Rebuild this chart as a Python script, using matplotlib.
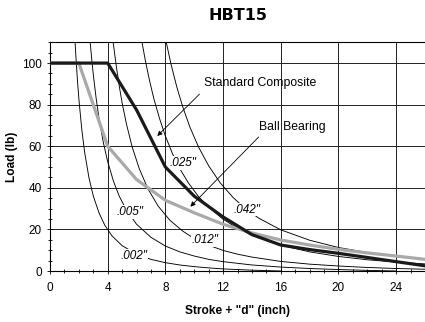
import matplotlib
matplotlib.use("Agg")
import matplotlib.pyplot as plt
from matplotlib.ticker import MultipleLocator

plt.rcParams['font.family'] = ['Liberation Sans', 'DejaVu Sans']

# Standard Composite / Ball Bearing load curves
stroke = [0, 2, 4, 6, 8, 10, 12, 14, 16, 18, 20, 22, 24, 26]
load_standard = [100, 100, 100, 77.5, 50, 36, 26, 17.5, 12.5, 10.3, 8.5, 6.5, 4.5, 2.5]
load_ball = [100, 100, 60, 44, 34, 28, 22.5, 18.3, 14.9, 12.5, 10.4, 8.7, 7.2, 5.6]

# thin reference curves, one per deflection value
stroke_002 = [1.74, 1.8, 1.9, 2.0, 2.2, 2.4, 2.7, 3.0, 3.4, 3.8, 4.3, 5.0, 6.0, 7.0,
              8.0, 9.0, 10, 11, 12, 13, 14, 15, 16]
load_002 = [110, 102.7, 92.0, 82.9, 68.3, 57.2, 44.9, 36.1, 27.9, 22.0, 16.9, 12.2, 8.1, 5.6,
            4.0, 2.9, 2.1, 1.5, 1.0, 0.7, 0.4, 0.2, 0.0]

stroke_005 = [2.785, 2.9, 3.0, 3.2, 3.4, 3.7, 4.0, 4.4, 4.8, 5.3, 6.0, 7.0, 8.0, 9.0,
              10, 11, 12, 14, 16, 18, 20, 22, 24]
load_005 = [110, 101.4, 94.6, 83.0, 73.3, 61.7, 52.6, 43.2, 36.0, 29.3, 22.5, 16.2, 12.0, 9.2,
            7.2, 5.6, 4.5, 2.9, 1.9, 1.2, 0.7, 0.3, 0.0]

stroke_012 = [4.38, 4.6, 4.8, 5.0, 5.3, 5.7, 6.2, 6.8, 7.5, 8.3, 9.2, 10, 11, 12, 13, 14,
              16, 18, 20, 22, 24, 26]
load_012 = [110, 98.3, 89.0, 80.9, 70.7, 59.6, 49.0, 39.4, 31.2, 24.5, 19.2, 15.6, 12.4, 9.9,
            8.1, 6.7, 4.6, 3.3, 2.4, 1.7, 1.2, 0.85]

stroke_025 = [6.38, 6.6, 6.9, 7.2, 7.6, 8.0, 8.5, 9.0, 9.6, 10.3, 11, 12, 13, 14, 16, 18,
              20, 22, 24, 26]
load_025 = [110, 101.6, 91.6, 82.9, 73.2, 64.9, 56.3, 49.2, 42.3, 35.8, 30.7, 24.9, 20.6, 17.2,
            12.4, 9.2, 7.0, 5.4, 4.3, 3.4]

stroke_042 = [8.06, 8.4, 8.8, 9.2, 9.7, 10.3, 11, 11.8, 12.7, 13.6, 14.5, 16, 18, 20, 22, 24, 26]
load_042 = [110, 99.2, 88.3, 79.0, 69.2, 59.6, 50.6, 42.4, 35.3, 29.7, 25.3, 19.8, 14.8, 11.3,
            8.9, 7.2, 5.9]

curve_labels = ['.002"', '.005"', '.012"', '.025"', '.042"']
label_pos = [(5.8, 7.4), (5.55, 28.5), (10.75, 14.8), (9.25, 52), (13.65, 29.5)]

fig = plt.figure(figsize=(4.25, 3.22), dpi=100)
ax = fig.add_axes([50 / 425, 1 - 271 / 322, 375 / 425, (271 - 42.3) / 322])

thin = [(stroke_002, load_002), (stroke_005, load_005), (stroke_012, load_012),
        (stroke_025, load_025), (stroke_042, load_042)]
for xs, ys in thin:
    ax.plot(xs, ys, color='black', lw=0.65, zorder=2)

for text, (tx, ty) in zip(curve_labels, label_pos):
    ax.text(tx, ty, text, fontsize=8.5, style='italic', ha='center', va='center', zorder=3,
            bbox=dict(facecolor='white', edgecolor='none', pad=0.6))

ax.plot(stroke, load_ball, color='#a9a9a9', lw=2.3, zorder=4)
ax.plot(stroke, load_standard, color='#1a1a1a', lw=2.3, zorder=5)

# annotations
ax.text(14.6, 90.4, 'Standard Composite', fontsize=8.8, ha='center', va='center', zorder=6)
ax.annotate('', xy=(7.3, 64), xytext=(10.5, 86),
            arrowprops=dict(arrowstyle='-|>', lw=0.6, color='black', mutation_scale=7), zorder=6)
ax.text(16.8, 69.2, 'Ball Bearing', fontsize=8.8, ha='center', va='center', zorder=6)
ax.annotate('', xy=(9.6, 30), xytext=(14.6, 65.4),
            arrowprops=dict(arrowstyle='-|>', lw=0.6, color='black', mutation_scale=7), zorder=6)

ax.set_xlim(0, 26)
ax.set_ylim(0, 110)
ax.xaxis.set_major_locator(MultipleLocator(4))
ax.xaxis.set_minor_locator(MultipleLocator(1))
ax.set_yticks([0, 20, 40, 60, 80, 100])
ax.yaxis.set_minor_locator(MultipleLocator(5))
ax.tick_params(which='both', direction='inout', width=0.6, labelsize=8.5, color='black')
ax.tick_params(which='major', length=5)
ax.tick_params(which='minor', length=3)
ax.tick_params(axis='x', pad=5.5)

ax.grid(True, which='major', color='#222222', lw=0.7)
ax.set_axisbelow(True)
ax.spines['right'].set_visible(False)
for s in ['left', 'bottom', 'top']:
    ax.spines[s].set_linewidth(0.8)

ax.set_xlabel('Stroke + "d" (inch)', fontsize=8.6, fontweight='bold', labelpad=7.5)
ax.set_ylabel('Load (lb)', fontsize=8.6, fontweight='bold', labelpad=3)
ax.set_title('HBT15', fontsize=11.5, fontweight='heavy', family='DejaVu Sans', pad=16)

fig.savefig('out.png', dpi=100)
